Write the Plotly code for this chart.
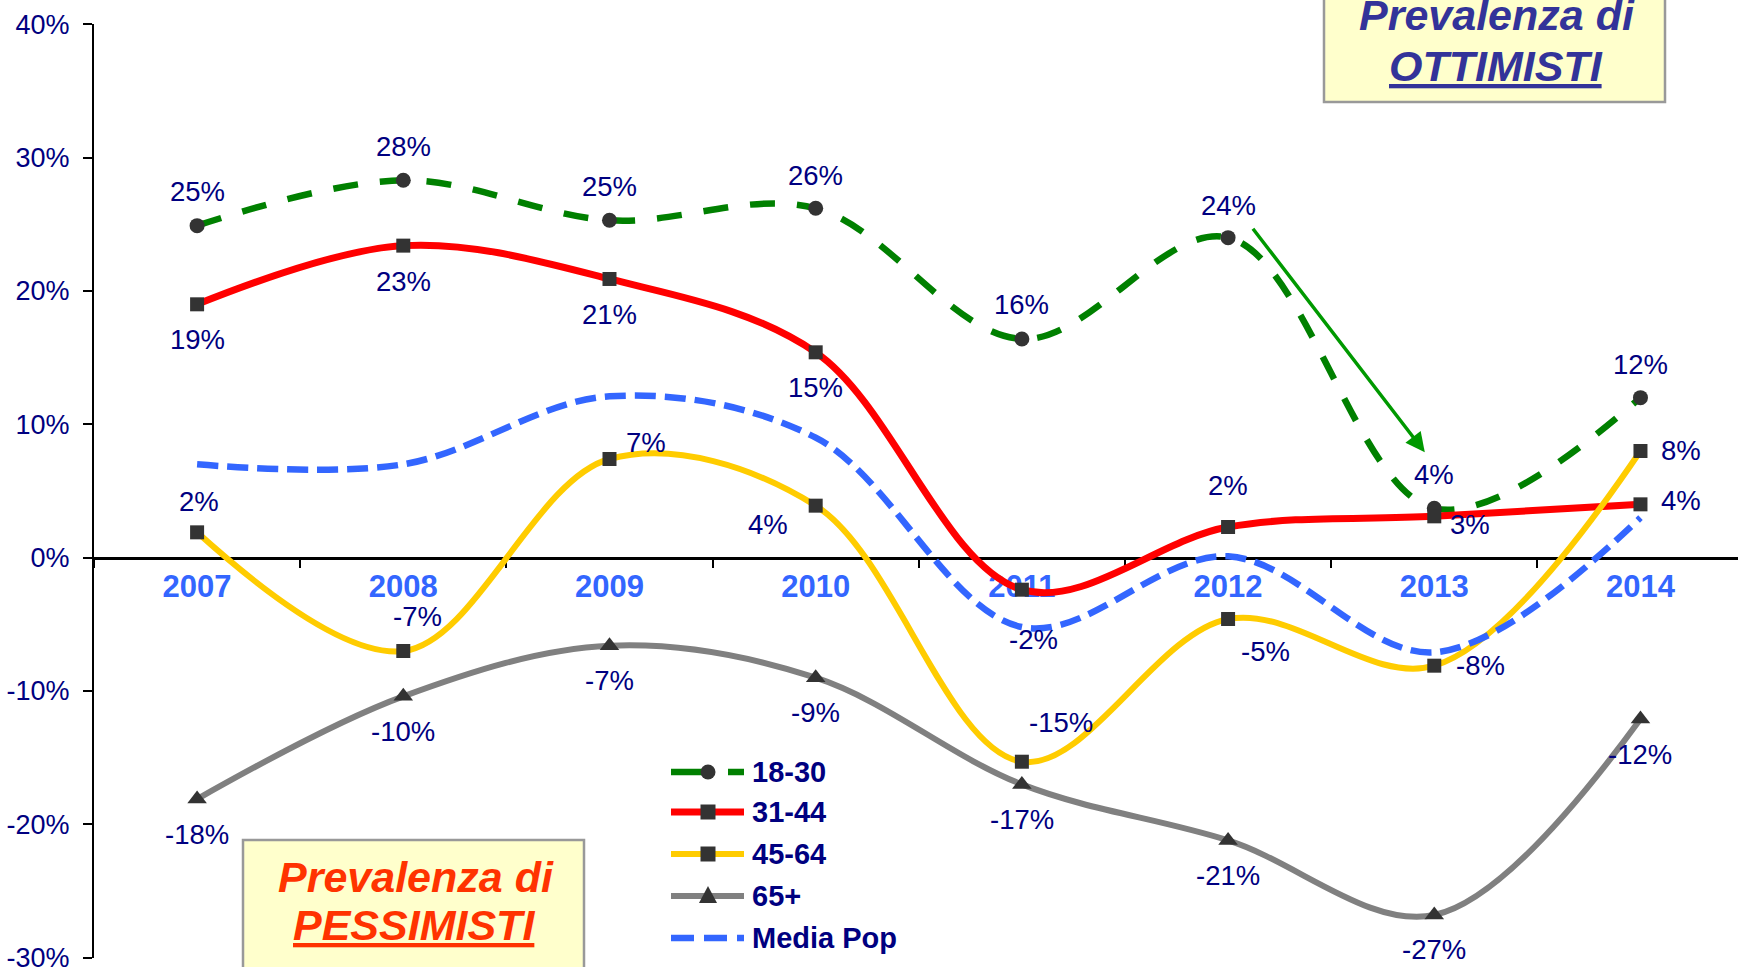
import plotly.graph_objects as go

# ---------------- data ----------------
years = ["2007", "2008", "2009", "2010", "2011", "2012", "2013", "2014"]
age_18_30 = [0.249, 0.283, 0.253, 0.262, 0.164, 0.240, 0.037, 0.120]
age_31_44 = [0.190, 0.234, 0.209, 0.154, -0.024, 0.023, 0.031, 0.040]
age_45_64 = [0.019, -0.070, 0.074, 0.039, -0.153, -0.046, -0.081, 0.080]
age_65 = [-0.181, -0.104, -0.066, -0.090, -0.170, -0.212, -0.268, -0.121]
media_pop = [0.070, 0.070, 0.121, 0.090, -0.052, 0.001, -0.071, 0.030]
series_names = ["18-30", "31-44", "45-64", "65+", "Media Pop"]
y_ticks = [-0.3, -0.2, -0.1, 0.0, 0.1, 0.2, 0.3, 0.4]
y_tick_labels = ["-30%", "-20%", "-10%", "0%", "10%", "20%", "30%", "40%"]

# ---------------- styles ----------------
NAVY = "#000080"
MARK = "#333333"
FONT = "Arial, Liberation Sans, sans-serif"
W, H = 1738, 967
ML, MR, MT, MB = 94, 0, 24, 9
PW, PH = W - ML - MR, H - MT - MB

def px2x(px):
    return (px - ML) / PW

def px2y(py):
    return 1 - (py - MT) / PH

series_styles = [
    dict(color="#008000", width=6.5, dash="25px,22px", symbol="circle", msize=15, leg_dash="38px,19px"),
    dict(color="#FF0000", width=7, dash="solid", symbol="square", msize=14, leg_dash="solid"),
    dict(color="#FFCC00", width=6, dash="solid", symbol="square", msize=14, leg_dash="solid"),
    dict(color="#808080", width=6, dash="solid", symbol="triangle-up", msize=17, leg_dash="solid"),
    dict(color="#3366FF", width=6.5, dash="21px,9px", symbol=None, msize=0, leg_dash="23px,10px"),
]

# label offsets (px) for data labels: (dx, dy) with dy positive upward
off_18_30 = [(0, 34), (0, 34), (0, 34), (0, 33), (0, 34), (0, 32), (0, 34), (0, 33)]
off_31_44 = [(0, -35), (0, -36), (0, -36), (0, -35), (12, -50), (0, 42), (36, -8), (41, 4)]
off_45_64 = [(2, 31), (14, 35), (37, 17), (-48, -19), (39, 39), (37, -32), (46, 0), (41, 0)]
off_65 = [(0, -35), (0, -35), (0, -35), (0, -35), (0, -35), (0, -35), (0, -34), (0, -35)]

all_series = [age_18_30, age_31_44, age_45_64, age_65, media_pop]

fig = go.Figure()
for name, vals, st in zip(series_names, all_series, series_styles):
    kw = dict(x=years, y=vals, name=name, showlegend=False,
              line=dict(color=st["color"], width=st["width"], dash=st["dash"],
                        shape="spline", smoothing=1))
    if st["symbol"]:
        kw["mode"] = "lines+markers"
        kw["marker"] = dict(symbol=st["symbol"], size=st["msize"], color=MARK)
    else:
        kw["mode"] = "lines"
    fig.add_trace(go.Scatter(**kw))

annotations = []
shapes = []
for vals, offs in [(age_18_30, off_18_30), (age_31_44, off_31_44),
                   (age_45_64, off_45_64), (age_65, off_65)]:
    for i, (v, (dx, dy)) in enumerate(zip(vals, offs)):
        annotations.append(dict(
            x=i, y=v, xref="x", yref="y", text=f"{round(v * 100):.0f}%",
            showarrow=False, xshift=dx, yshift=dy,
            font=dict(family=FONT, size=27.5, color=NAVY)))

# green arrow highlighting the drop of 18-30
annotations.append(dict(
    x=5.954, y=0.0791, ax=5.115, ay=0.2478, xref="x", yref="y", axref="x", ayref="y",
    text="", showarrow=True, arrowhead=2, arrowsize=1.1, arrowwidth=3.5,
    arrowcolor="#009900", standoff=0, startstandoff=0))

# ---- text boxes ----
shapes.append(dict(type="rect", xref="paper", yref="paper",
                   x0=px2x(1324), x1=px2x(1665), y0=px2y(102), y1=px2y(-20),
                   fillcolor="#FFFFCC", line=dict(color="#999999", width=2.5), layer="above"))
shapes.append(dict(type="rect", xref="paper", yref="paper",
                   x0=px2x(243), x1=px2x(584), y0=px2y(990), y1=px2y(840),
                   fillcolor="#FFFFCC", line=dict(color="#999999", width=2.5), layer="above"))
box_lines = [
    ("<b><i>Prevalenza di</i></b>", 1497, 15, "#333399"),
    ("<b><i><u>OTTIMISTI</u></i></b>", 1496, 66, "#333399"),
    ("<b><i>Prevalenza di</i></b>", 416, 877, "#FF3300"),
    ("<b><i><u>PESSIMISTI</u></i></b>", 414, 925, "#FF3300"),
]
for txt, cx, cy, col in box_lines:
    annotations.append(dict(x=px2x(cx), y=px2y(cy), xref="paper", yref="paper",
                            xanchor="center", yanchor="middle", text=txt, showarrow=False,
                            font=dict(family=FONT, size=43, color=col)))

# ---- legend (drawn: long line samples as in the original) ----
leg_x0, leg_x1, leg_mx, leg_tx = 671, 744, 708, 750
leg_rows = [772, 812, 854, 896, 938]
for name, st, ly in zip(series_names, series_styles, leg_rows):
    shapes.append(dict(type="line", xref="paper", yref="paper",
                       x0=px2x(leg_x0), x1=px2x(leg_x1), y0=px2y(ly), y1=px2y(ly),
                       line=dict(color=st["color"], width=st["width"], dash=st["leg_dash"]),
                       layer="above"))
    if st["symbol"] == "circle":
        shapes.append(dict(type="circle", xref="paper", yref="paper",
                           xsizemode="pixel", ysizemode="pixel",
                           xanchor=px2x(leg_mx), yanchor=px2y(ly),
                           x0=-7.5, x1=7.5, y0=-7.5, y1=7.5,
                           fillcolor=MARK, line=dict(width=0), layer="above"))
    elif st["symbol"] == "square":
        shapes.append(dict(type="rect", xref="paper", yref="paper",
                           xsizemode="pixel", ysizemode="pixel",
                           xanchor=px2x(leg_mx), yanchor=px2y(ly),
                           x0=-7.5, x1=7.5, y0=-7.5, y1=7.5,
                           fillcolor=MARK, line=dict(width=0), layer="above"))
    elif st["symbol"] == "triangle-up":
        shapes.append(dict(type="path", xref="paper", yref="paper",
                           xsizemode="pixel", ysizemode="pixel",
                           xanchor=px2x(leg_mx), yanchor=px2y(ly),
                           path="M-9,-7 L9,-7 L0,10 Z",
                           fillcolor=MARK, line=dict(width=0), layer="above"))
    annotations.append(dict(x=px2x(leg_tx), y=px2y(ly), xref="paper", yref="paper",
                            xanchor="left", yanchor="middle", text=f"<b>{name}</b>",
                            showarrow=False,
                            font=dict(family=FONT, size=29, color=NAVY)))

fig.update_layout(
    width=W, height=H, autosize=False,
    margin=dict(l=ML, r=MR, t=MT, b=MB, autoexpand=False),
    paper_bgcolor="white", plot_bgcolor="white",
    font=dict(family=FONT, color=NAVY),
    showlegend=False,
    annotations=annotations,
    shapes=shapes,
    xaxis=dict(type="category", range=[-0.5, 7.473], anchor="free", position=0.42861,
               showline=True, linecolor="black", linewidth=2.5, automargin=False,
               ticks="outside", tickson="boundaries", ticklen=9, tickwidth=2, tickcolor="black",
               tickfont=dict(family=FONT, size=31, color="#3366FF", weight="bold"),
               showgrid=False, zeroline=False, layer="below traces"),
    yaxis=dict(range=[-0.3002, 0.4002], tickmode="array", tickvals=y_ticks,
               ticktext=y_tick_labels, automargin=False,
               showline=True, linecolor="black", linewidth=2,
               ticks="outside", ticklen=9, tickwidth=2, tickcolor="black",
               ticklabelstandoff=8, ticklabeloverflow="allow",
               tickfont=dict(family=FONT, size=27, color=NAVY),
               showgrid=False, zeroline=False),
)

fig.write_html("out.html", config={"displayModeBar": False},
               post_script="document.body.style.margin='0';")
